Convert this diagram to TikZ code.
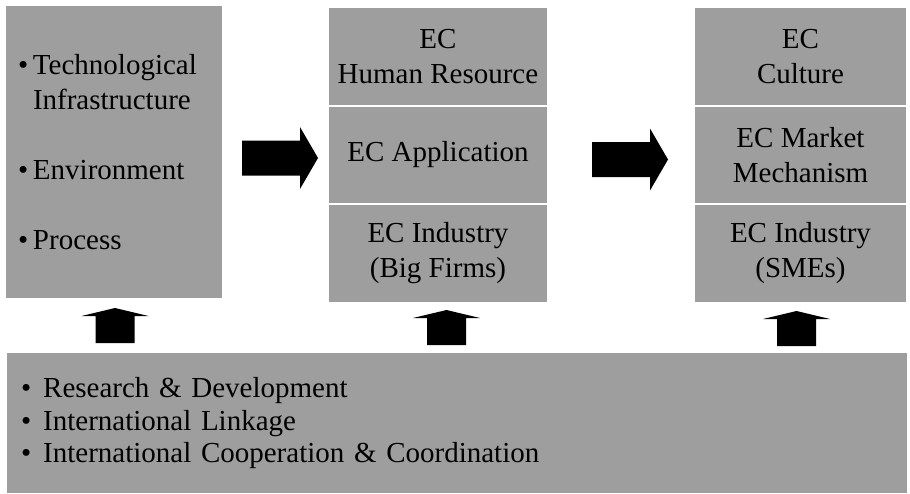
\documentclass[tikz,border=0pt]{standalone}
\usepackage{fontspec}
\setmainfont{Liberation Serif}
\usepackage{tikz}
\usetikzlibrary{positioning}

\definecolor{panelgray}{RGB}{158,158,158}

% bullet with a fixed gap before the item text
\newcommand{\itm}[2][15pt]{\makebox[#1][l]{\textbullet}#2}

\tikzset{
    panel/.style = {fill = panelgray, inner sep = 0, font = \fontsize{29}{35}\selectfont},
    section/.style = {panel, minimum height = 97.5pt, align = center},
    divider/.style = {white, line width = 1.6pt},
    flowarrow/.pic = {
        \fill (0,-17.5) -- (58,-17.5) -- (58,-31) -- (76,0) -- (58,31) -- (58,17.5) -- (0,17.5) -- cycle;
    },
    liftarrow/.pic = {
        \fill (-19.5,0) -- (-19.5,-27) -- (-33.5,-27) -- (0,-35) -- (33.5,-27) -- (19.5,-27) -- (19.5,0) -- cycle;
    }
}

\begin{document}
\begin{tikzpicture} [x = 1pt, y = -1pt]
    \useasboundingbox (0,0) rectangle (910,493);

    % left column
    \node [panel, minimum width = 216pt, minimum height = 292pt, text width = 192pt, align = left]
        (infra) at (114,152)
        {\itm{Technological}\\ \hspace*{15pt}Infrastructure\\[35pt]
         \itm{Environment}\\[35pt]
         \itm{Process}};

    % middle column
    \node [section, minimum width = 218pt, anchor = north] (human) at (438,8) {EC\\Human Resource};
    \node [section, minimum width = 218pt, below = 0pt of human] (appl) {EC Application};
    \node [section, minimum width = 218pt, below = 0pt of appl] (bigfirms) {EC Industry\\(Big Firms)};

    % right column
    \node [section, minimum width = 211pt, anchor = north] (culture) at (800.5,8) {EC\\Culture};
    \node [section, minimum width = 211pt, below = 0pt of culture] (market) {EC Market\\Mechanism};
    \node [section, minimum width = 211pt, below = 0pt of market] (smes) {EC Industry\\(SMEs)};

    \draw [divider] (human.south west) -- (human.south east);
    \draw [divider] (appl.south west) -- (appl.south east);
    \draw [divider] (culture.south west) -- (culture.south east);
    \draw [divider] (market.south west) -- (market.south east);

    % bottom band
    \node [panel, minimum width = 900pt, minimum height = 140pt, text width = 872pt, align = left,
        anchor = north west, font = \fontsize{29}{32.5}\selectfont]
        (support) at (7,353)
        {\itm[22pt]{Research \& Development}\\
         \itm[22pt]{International Linkage}\\
         \itm[22pt]{International Cooperation \& Coordination}};

    % block arrows
    \pic at (242,158) {flowarrow};
    \pic at (592,159.5) {flowarrow};
    \pic at (115,343) {liftarrow};
    \pic at (446.5,345) {liftarrow};
    \pic at (796.5,346) {liftarrow};
\end{tikzpicture}
\end{document}
